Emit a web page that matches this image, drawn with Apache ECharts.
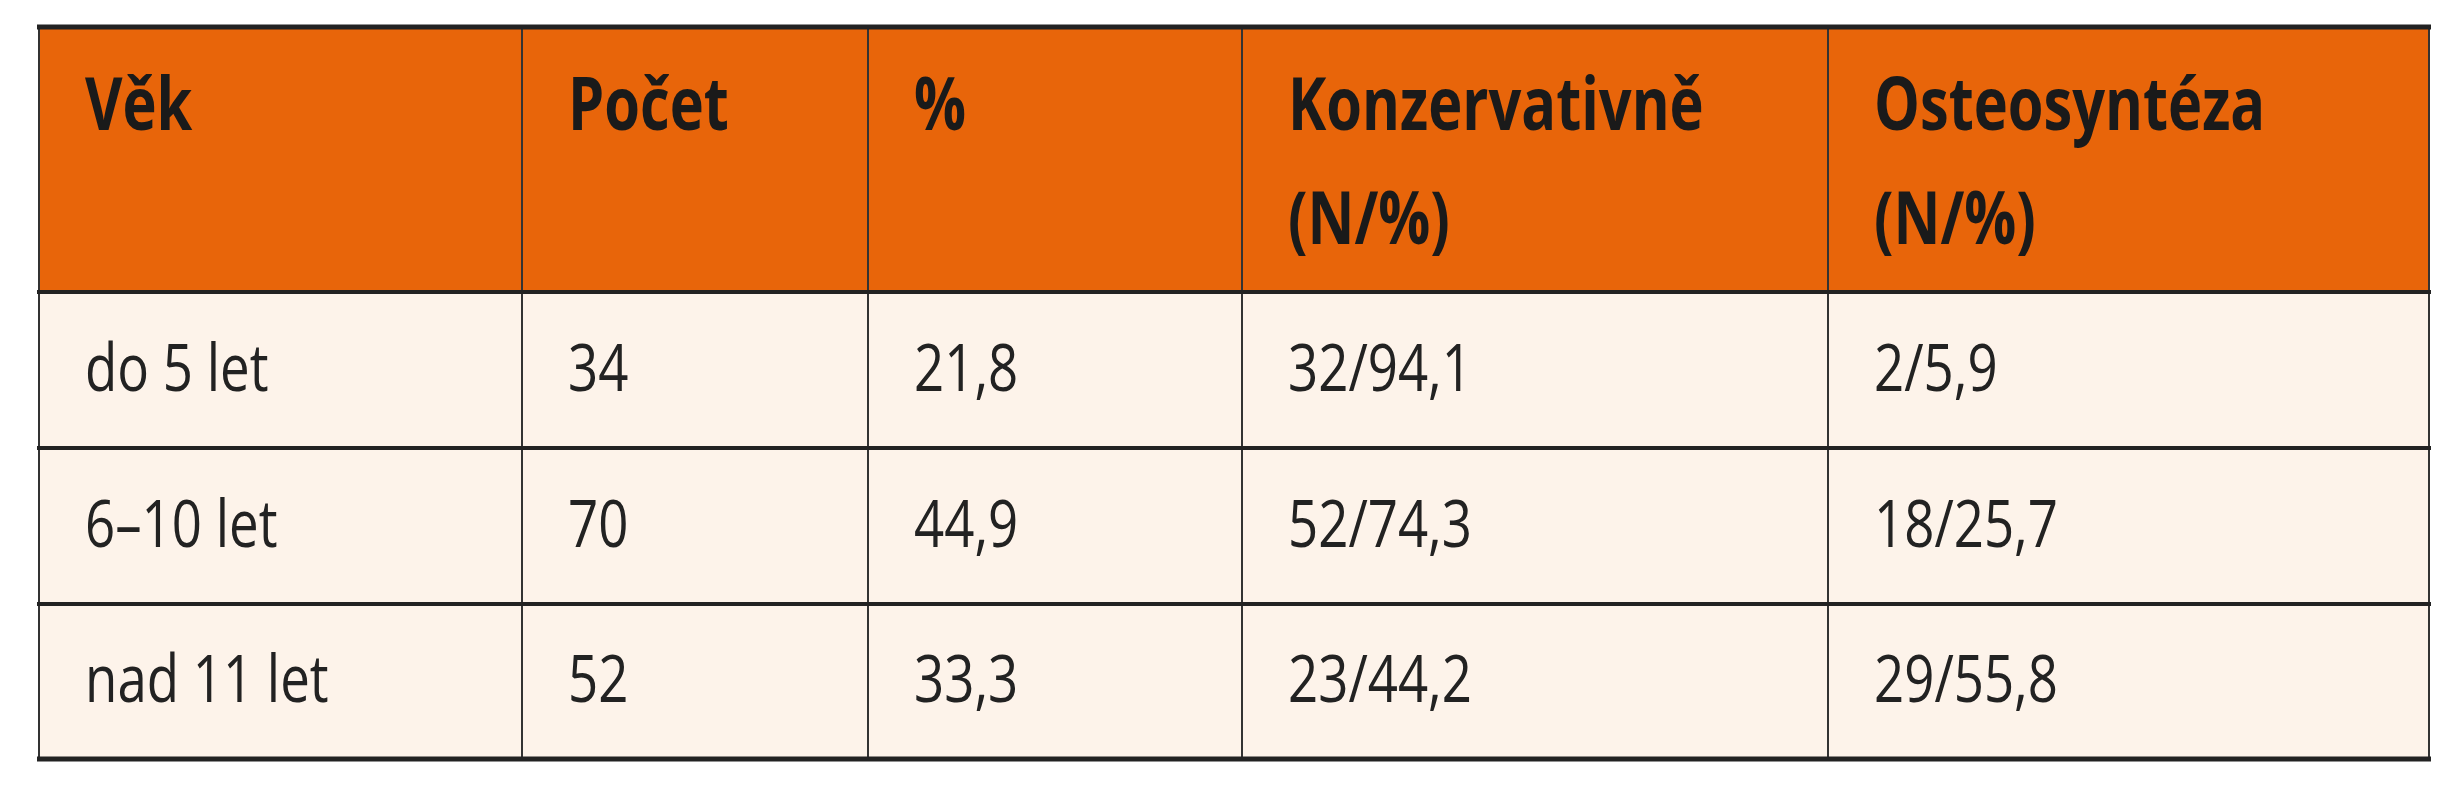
<!DOCTYPE html>
<html>
<head>
<meta charset="utf-8">
<script src="https://cdn.jsdelivr.net/npm/echarts@6/dist/echarts.min.js"></script>
<style>html,body{margin:0;background:#fff}#chart{width:2452px;height:800px}</style>
</head>
<body>
<div id="chart"></div>
<script>
// data
const headers = [['Věk'], ['Počet'], ['%'], ['Konzervativně', '(N/%)'], ['Osteosyntéza', '(N/%)']];
const ageGroups = ['do 5 let', '6–10 let', 'nad 11 let'];
const counts = ['34', '70', '52'];
const percents = ['21,8', '44,9', '33,3'];
const conservative = ['32/94,1', '52/74,3', '23/44,2'];
const osteosynthesis = ['2/5,9', '18/25,7', '29/55,8'];

// layout
const colX = [39, 522, 868, 1242, 1828, 2429];
const rowY = [27, 292, 448, 604, 759];
const FONT = '"Open Sans", sans-serif';

const chart = echarts.init(document.getElementById('chart'));
const g = [];

// backgrounds
g.push({ type: 'rect', shape: { x: colX[0], y: rowY[0], width: colX[5] - colX[0], height: rowY[1] - rowY[0] }, style: { fill: '#E8650A' } });
g.push({ type: 'rect', shape: { x: colX[0], y: rowY[1], width: colX[5] - colX[0], height: rowY[4] - rowY[1] }, style: { fill: '#FDF3EA' } });

// header text (condensed look: stretched vertically)
headers.forEach((lines, c) => {
  lines.forEach((t, i) => {
    const x = colX[c] + 46, y = 109 + i * 114;
    g.push({ type: 'text', x: x, y: y, scaleX: 0.78, scaleY: 1.0, originX: 0, originY: 0,
      style: { text: t, x: 0, y: 0, font: 'bold 74px ' + FONT, fill: '#1a1a1a', verticalAlign: 'middle' } });
  });
});

// body text
const columns = [ageGroups, counts, percents, conservative, osteosynthesis];
columns.forEach((col, c) => {
  col.forEach((t, r) => {
    const x = colX[c] + 46, y = (rowY[r + 1] + rowY[r + 2]) / 2 + 2;
    g.push({ type: 'text', x: x, y: y, scaleX: 0.8, scaleY: 1.0,
      style: { text: t, x: 0, y: 0, font: '66px ' + FONT, fill: '#222', verticalAlign: 'middle' } });
  });
});

// vertical lines
colX.forEach((x) => {
  g.push({ type: 'line', shape: { x1: x, y1: rowY[0], x2: x, y2: rowY[4] }, style: { stroke: '#333', lineWidth: 2 } });
});
// horizontal lines
rowY.forEach((y, i) => {
  g.push({ type: 'line', shape: { x1: colX[0] - 2, y1: y, x2: colX[5] + 2, y2: y }, style: { stroke: '#222', lineWidth: i === 0 || i === 4 ? 5 : 4 } });
});

chart.setOption({ animation: false, graphic: g });
</script>
</body>
</html>
